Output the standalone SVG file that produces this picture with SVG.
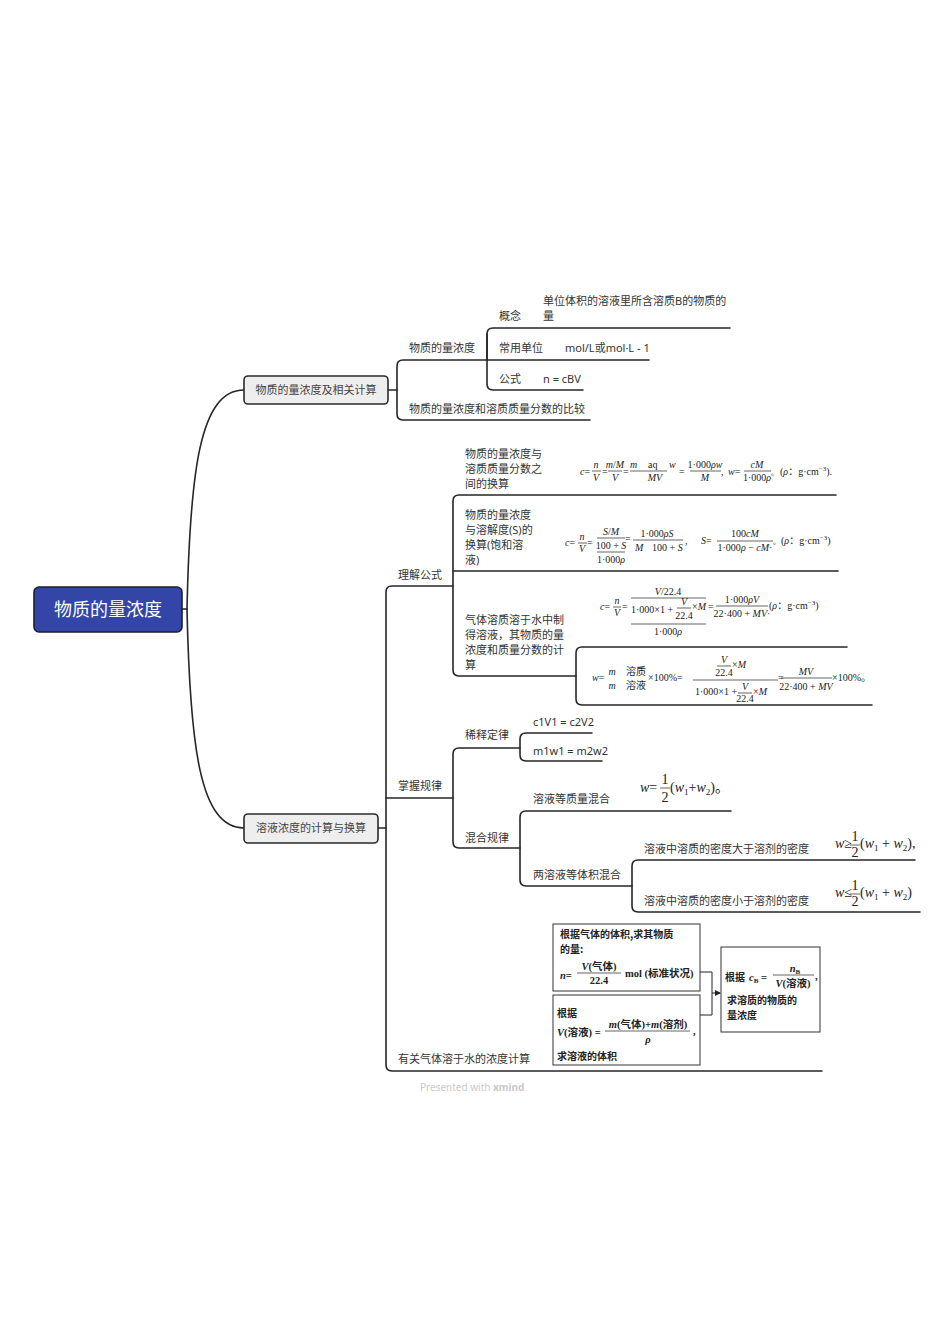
<svg xmlns="http://www.w3.org/2000/svg" width="950" height="1344" viewBox="0 0 950 1344">
<style>
.bg{fill:#ffffff}
.ln{fill:none;stroke:#262626;stroke-width:1.6;stroke-linecap:round}
.t{font-family:"Noto Sans","Noto Sans CJK SC",sans-serif;font-size:11px;fill:#333333}
.nt{font-family:"Noto Sans CJK SC",sans-serif;font-size:11px;fill:#444444;text-anchor:middle}
.sub{fill:#eeeeee;stroke:#2a2a2a;stroke-width:1.6}
.f{font-family:"Liberation Serif","Noto Sans CJK SC",serif;font-size:10px;fill:#222222}
.fm{font-family:"Liberation Serif","Noto Sans CJK SC",serif;font-size:14px;fill:#222222}
.i{font-style:italic}
.m{text-anchor:middle}
.fl{stroke:#222222;stroke-width:0.7}
.g{font-family:"Noto Sans CJK SC",sans-serif;font-size:10px;font-weight:bold;fill:#222222}
.gm{font-family:"Liberation Serif","Noto Sans CJK SC",serif;font-size:10.5px;font-weight:bold;fill:#222222}
.box{fill:#ffffff;stroke:#333333;stroke-width:1}
</style>
<defs>
<marker id="arr" markerWidth="6" markerHeight="6" refX="5" refY="3" orient="auto" markerUnits="userSpaceOnUse">
<path d="M0,0 L6,3 L0,6 z" fill="#222"/>
</marker>
</defs>
<rect class="bg" x="0" y="0" width="950" height="1344"/>

<g id="connectors">
<path class="ln" d="M182 609 H187"/>
<path class="ln" d="M187 609 C190 470 200 390 244 390"/>
<path class="ln" d="M187 609 C190 748 200 828 244 828"/>
<path class="ln" d="M388 390 H397"/>
<path class="ln" d="M649 360 H403 Q397 360 397 366 V414 Q397 420 403 420 H590"/>
<path class="ln" d="M730 328 H493 Q487 328 487 334 V384 Q487 390 493 390 H583"/>
<path class="ln" d="M487 334 V360"/>
<path class="ln" d="M378 828 H386"/>
<path class="ln" d="M453 586 H392 Q386 586 386 592 V1065 Q386 1071 392 1071 H822"/>
<path class="ln" d="M386 798 H453"/>
<path class="ln" d="M836 495 H459 Q453 495 453 501 V670 Q453 676 459 676 H576"/>
<path class="ln" d="M453 571 H838"/>
<path class="ln" d="M847 647 H582 Q576 647 576 653 V699 Q576 705 582 705 H872"/>
<path class="ln" d="M520 748 H459 Q453 748 453 754 V842 Q453 848 459 848 H520"/>
<path class="ln" d="M592 733 H526 Q520 733 520 739 V755 Q520 761 526 761 H602"/>
<path class="ln" d="M731 811 H526 Q520 811 520 817 V880 Q520 886 526 886 H632"/>
<path class="ln" d="M915 860 H638 Q632 860 632 866 V906 Q632 912 638 912 H920"/>
</g>

<g id="root">
<rect x="34" y="587" width="148" height="45" rx="5" fill="#3346a8" stroke="#1e1e2e" stroke-width="1.6"/>
<text x="108" y="616" font-family="Noto Sans CJK SC,sans-serif" font-size="18" fill="#ffffff" text-anchor="middle">物质的量浓度</text>
</g>

<g id="n-related">
<rect class="sub" x="244" y="376" width="144" height="28" rx="4"/>
<text class="nt" x="316" y="394">物质的量浓度及相关计算</text>
</g>
<g id="n-calc">
<rect class="sub" x="244" y="814" width="134" height="29" rx="4"/>
<text class="nt" x="311" y="832">溶液浓度的计算与换算</text>
</g>

<g id="n-amount-conc"><text class="t" x="409" y="352">物质的量浓度</text></g>
<g id="n-compare"><text class="t" x="409" y="413">物质的量浓度和溶质质量分数的比较</text></g>
<g id="n-concept">
<text class="t" x="499" y="320">概念</text>
<text class="t" x="543" y="305">单位体积的溶液里所含溶质B的物质的</text>
<text class="t" x="543" y="320">量</text>
</g>
<g id="n-unit">
<text class="t" x="499" y="352">常用单位</text>
<text class="t" x="565" y="352">mol/L或mol·L - 1</text>
</g>
<g id="n-formula">
<text class="t" x="499" y="383">公式</text>
<text class="t" x="543" y="383">n = cBV</text>
</g>

<g id="n-understand"><text class="t" x="398" y="579">理解公式</text></g>
<g id="n-rules"><text class="t" x="398" y="790">掌握规律</text></g>
<g id="n-gas"><text class="t" x="398" y="1063">有关气体溶于水的浓度计算</text></g>

<g id="n-conv1">
<text class="t" x="465" y="458">物质的量浓度与</text>
<text class="t" x="465" y="473">溶质质量分数之</text>
<text class="t" x="465" y="488">间的换算</text>
<g class="f">
<text x="580" y="475"><tspan class="i">c</tspan>=</text>
<text class="m i" x="596" y="468">n</text><line class="fl" x1="592" y1="471" x2="601" y2="471"/><text class="m i" x="596" y="481">V</text>
<text x="602" y="475">=</text>
<text class="m" x="615" y="468"><tspan class="i">m</tspan>/<tspan class="i">M</tspan></text><line class="fl" x1="608" y1="471" x2="622" y2="471"/><text class="m i" x="615" y="481">V</text>
<text x="623" y="475">=</text>
<text class="i" x="630" y="468">m</text><text x="648" y="468">aq</text><text class="i" x="669" y="468">w</text>
<line class="fl" x1="630" y1="471" x2="667" y2="471"/>
<text class="m i" x="655" y="481">MV</text>
<text x="679" y="475">=</text>
<text class="m" x="705" y="468">1·000<tspan class="i">ρw</tspan></text><line class="fl" x1="690" y1="471" x2="721" y2="471"/><text class="m i" x="705" y="481">M</text>
<text x="721" y="475">,</text>
<text x="728" y="475"><tspan class="i">w</tspan>=</text>
<text class="m i" x="757" y="468">cM</text><line class="fl" x1="744" y1="471" x2="771" y2="471"/><text class="m" x="757" y="481">1·000<tspan class="i">ρ</tspan></text>
<text x="771" y="475" font-size="7">。</text>
<text x="780" y="475">(<tspan class="i">ρ</tspan>：g·cm<tspan font-size="7" dy="-4">−3</tspan><tspan dy="4">).</tspan></text>
</g>
</g>

<g id="n-conv2">
<text class="t" x="465" y="519">物质的量浓度</text>
<text class="t" x="465" y="534">与溶解度(S)的</text>
<text class="t" x="465" y="549">换算(饱和溶</text>
<text class="t" x="465" y="564">液)</text>
<g class="f">
<text x="565" y="546"><tspan class="i">c</tspan>=</text>
<text class="m i" x="582" y="540">n</text><line class="fl" x1="578" y1="543" x2="587" y2="543"/><text class="m i" x="582" y="552">V</text>
<text x="587" y="546">=</text>
<text class="m" x="611" y="535"><tspan class="i">S</tspan>/<tspan class="i">M</tspan></text>
<line class="fl" x1="597" y1="538" x2="625" y2="538"/>
<text class="m" x="611" y="549">100 + <tspan class="i">S</tspan></text>
<line class="fl" x1="597" y1="552" x2="625" y2="552"/>
<text class="m" x="611" y="563">1·000<tspan class="i">ρ</tspan></text>
<text x="625" y="542">=</text>
<text class="m" x="657" y="537">1·000<tspan class="i">ρS</tspan></text><line class="fl" x1="633" y1="540" x2="683" y2="540"/>
<text class="i" x="635" y="551">M</text><text x="652" y="551">100 + <tspan class="i">S</tspan></text>
<text x="685" y="544">,</text>
<text x="701" y="544"><tspan class="i">S</tspan>=</text>
<text class="m" x="745" y="537">100<tspan class="i">cM</tspan></text><line class="fl" x1="717" y1="541" x2="773" y2="541"/>
<text class="m" x="745" y="551">1·000<tspan class="i">ρ</tspan> − <tspan class="i">cM</tspan>·</text>
<text x="773" y="544" font-size="7">。</text>
<text x="781" y="544">(<tspan class="i">ρ</tspan>：g·cm<tspan font-size="7" dy="-4">−3</tspan><tspan dy="4">)</tspan></text>
</g>
</g>

<g id="n-conv3">
<text class="t" x="465" y="624">气体溶质溶于水中制</text>
<text class="t" x="465" y="639">得溶液，其物质的量</text>
<text class="t" x="465" y="654">浓度和质量分数的计</text>
<text class="t" x="465" y="669">算</text>
</g>

<g id="n-conv3-c" class="f">
<text x="600" y="610"><tspan class="i">c</tspan>=</text>
<text class="m i" x="617" y="604">n</text><line class="fl" x1="613" y1="607" x2="621" y2="607"/><text class="m i" x="617" y="616">V</text>
<text x="622" y="610">=</text>
<text class="m" x="668" y="595"><tspan class="i">V</tspan>/22.4</text>
<line class="fl" x1="631" y1="598" x2="706" y2="598"/>
<text x="631" y="613">1·000×1 +</text>
<text class="m i" x="684" y="605">V</text><line class="fl" x1="677" y1="608" x2="691" y2="608"/><text class="m" x="684" y="619">22.4</text>
<text x="692" y="610">×<tspan class="i">M</tspan></text>
<line class="fl" x1="631" y1="624" x2="706" y2="624"/>
<text class="m" x="668" y="635">1·000<tspan class="i">ρ</tspan></text>
<text x="708" y="610">=</text>
<text class="m" x="742" y="603">1·000<tspan class="i">ρV</tspan></text><line class="fl" x1="716" y1="606" x2="768" y2="606"/>
<text class="m" x="742" y="617">22·400 + <tspan class="i">MV</tspan>·</text>
<text x="769" y="609">(<tspan class="i">ρ</tspan>：g·cm<tspan font-size="7" dy="-4">−3</tspan><tspan dy="4">)</tspan></text>
</g>

<g id="n-conv3-w" class="f">
<text x="592" y="681"><tspan class="i">w</tspan>=</text>
<text class="m i" x="612" y="675">m</text><text class="m i" x="612" y="689">m</text>
<text x="626" y="675">溶质</text><text x="626" y="689">溶液</text>
<text x="648" y="681">×100%=</text>
<text class="m i" x="724" y="663">V</text><line class="fl" x1="717" y1="666" x2="731" y2="666"/><text class="m" x="724" y="676">22.4</text>
<text x="732" y="668">×<tspan class="i">M</tspan></text>
<line class="fl" x1="693" y1="680" x2="778" y2="680"/>
<text x="695" y="695">1·000×1 +</text>
<text class="m i" x="745" y="690">V</text><line class="fl" x1="738" y1="693" x2="752" y2="693"/><text class="m" x="745" y="702">22.4</text>
<text x="753" y="695">×<tspan class="i">M</tspan></text>
<text x="778" y="681">=</text>
<text class="m i" x="806" y="675">MV</text><line class="fl" x1="781" y1="678" x2="832" y2="678"/>
<text class="m" x="806" y="690">22·400 + <tspan class="i">MV</tspan></text>
<text x="832" y="681">×100%。</text>
</g>

<g id="n-dilution"><text class="t" x="465" y="739">稀释定律</text></g>
<g id="n-dil1"><text class="t" x="533" y="726">c1V1 = c2V2</text></g>
<g id="n-dil2"><text class="t" x="533" y="755">m1w1 = m2w2</text></g>
<g id="n-mix"><text class="t" x="465" y="842">混合规律</text></g>
<g id="n-mix-mass">
<text class="t" x="533" y="803">溶液等质量混合</text>
<g class="fm">
<text x="640" y="792"><tspan class="i">w</tspan>=</text>
<text class="m" x="665" y="784">1</text><line class="fl" x1="660" y1="788" x2="670" y2="788"/><text class="m" x="665" y="802">2</text>
<text x="670" y="792">(<tspan class="i">w</tspan><tspan font-size="9" dy="3">1</tspan><tspan dy="-3">+</tspan><tspan class="i">w</tspan><tspan font-size="9" dy="3">2</tspan><tspan dy="-3">)。</tspan></text>
</g>
</g>
<g id="n-mix-vol"><text class="t" x="533" y="879">两溶液等体积混合</text></g>
<g id="n-mix-gt">
<text class="t" x="644" y="853">溶液中溶质的密度大于溶剂的密度</text>
<g class="fm">
<text x="835" y="848"><tspan class="i">w</tspan>≥</text>
<text class="m" x="855" y="841">1</text><line class="fl" x1="850" y1="845" x2="860" y2="845"/><text class="m" x="855" y="857">2</text>
<text x="860" y="848">(<tspan class="i">w</tspan><tspan font-size="9" dy="3">1</tspan><tspan dy="-3"> + </tspan><tspan class="i">w</tspan><tspan font-size="9" dy="3">2</tspan><tspan dy="-3">),</tspan></text>
</g>
</g>
<g id="n-mix-lt">
<text class="t" x="644" y="905">溶液中溶质的密度小于溶剂的密度</text>
<g class="fm">
<text x="835" y="897"><tspan class="i">w</tspan>≤</text>
<text class="m" x="855" y="890">1</text><line class="fl" x1="850" y1="894" x2="860" y2="894"/><text class="m" x="855" y="906">2</text>
<text x="860" y="897">(<tspan class="i">w</tspan><tspan font-size="9" dy="3">1</tspan><tspan dy="-3"> + </tspan><tspan class="i">w</tspan><tspan font-size="9" dy="3">2</tspan><tspan dy="-3">)</tspan></text>
</g>
</g>

<g id="n-gas-chart">
<rect class="box" x="553" y="924" width="147" height="67"/>
<text class="g" x="560" y="938">根据气体的体积,求其物质</text>
<text class="g" x="560" y="953">的量:</text>
<text class="gm" x="560" y="979"><tspan class="i">n</tspan>=</text>
<text class="gm m" x="599" y="970"><tspan class="i">V</tspan>(气体)</text>
<line class="fl" x1="577" y1="973" x2="621" y2="973"/>
<text class="gm m" x="599" y="984">22.4</text>
<text class="gm" x="625" y="977">mol (标准状况)</text>

<rect class="box" x="553" y="995" width="147" height="70"/>
<text class="g" x="557" y="1017">根据</text>
<text class="gm" x="557" y="1036"><tspan class="i">V</tspan>(溶液) =</text>
<text class="gm m" x="648" y="1028"><tspan class="i">m</tspan>(气体)+<tspan class="i">m</tspan>(溶剂)</text>
<line class="fl" x1="605" y1="1031" x2="690" y2="1031"/>
<text class="gm m i" x="648" y="1043">ρ</text>
<text class="gm" x="693" y="1035">,</text>
<text class="g" x="557" y="1060">求溶液的体积</text>

<rect class="box" x="721" y="947" width="99" height="85"/>
<text class="g" x="725" y="981">根据</text>
<text class="gm" x="749" y="981"><tspan class="i">c</tspan><tspan font-size="7" dy="2">B</tspan><tspan dy="-2"> =</tspan></text>
<text class="gm m" x="795" y="972"><tspan class="i">n</tspan><tspan font-size="7" dy="2">B</tspan></text>
<line class="fl" x1="773" y1="975" x2="814" y2="975"/>
<text class="gm m" x="793" y="987"><tspan class="i">V</tspan>(溶液)</text>
<text class="gm" x="815" y="980">,</text>
<text class="g" x="727" y="1004">求溶质的物质的</text>
<text class="g" x="727" y="1019">量浓度</text>

<path d="M700 972 H712 V1015 H700" fill="none" stroke="#222" stroke-width="1"/>
<path d="M712 993 H720" fill="none" stroke="#222" stroke-width="1" marker-end="url(#arr)"/>
</g>

<text x="420" y="1091" font-family="Noto Sans,sans-serif" font-size="10" fill="#c9c9c9">Presented with <tspan font-weight="bold">xmind</tspan></text>
</svg>
